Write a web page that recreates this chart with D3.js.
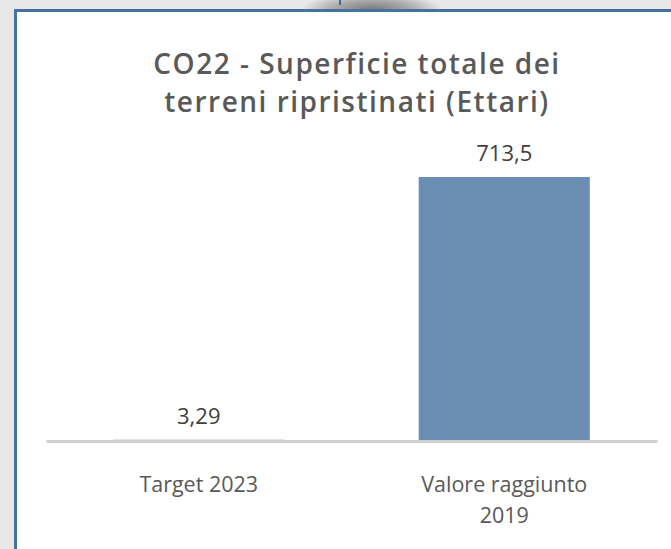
<!DOCTYPE html>
<html>
<head>
<meta charset="utf-8">
<script src="https://cdn.jsdelivr.net/npm/d3@7"></script>
<style>
  body { margin: 0; background: #e8e8e8; }
  svg { display: block; }
</style>
</head>
<body>
<div id="chart"></div>
<script>
// chart data
const titleLines = ["CO22 - Superficie totale dei", "terreni ripristinati (Ettari)"];
const categories = ["Target 2023", "Valore raggiunto 2019"];
const categoryLines = [["Target 2023"], ["Valore raggiunto", "2019"]];
const values = [3.29, 713.5];
const yDomain = [0, 800];

const width = 671, height = 549;
const margin = { top: 145, right: 14, bottom: 108, left: 46 };

const it = d3.formatLocale({ decimal: ",", thousands: ".", grouping: [3], currency: ["", " €"] });
const fmt = it.format("~g");

const svg = d3.select("#chart").append("svg")
  .attr("width", width)
  .attr("height", height);

// shadow + panel behind the chart
const defs = svg.append("defs");
const grad = defs.append("radialGradient").attr("id", "shadow");
grad.append("stop").attr("offset", "0%").attr("stop-color", "#7c7c7c");
grad.append("stop").attr("offset", "55%").attr("stop-color", "#ababab");
grad.append("stop").attr("offset", "100%").attr("stop-color", "#e8e8e8");

svg.append("ellipse")
  .attr("cx", 372).attr("cy", 9)
  .attr("rx", 70).attr("ry", 16)
  .attr("fill", "url(#shadow)");

svg.append("rect")
  .attr("x", 15.5).attr("y", 10.5)
  .attr("width", width + 20).attr("height", height + 20)
  .attr("fill", "#fff")
  .attr("stroke", "#4672a2")
  .attr("stroke-width", 3);

svg.append("line")
  .attr("x1", 340).attr("x2", 340)
  .attr("y1", 0).attr("y2", 5)
  .attr("stroke", "#3f6a98")
  .attr("stroke-width", 2);

// title
svg.append("text")
  .attr("text-anchor", "middle")
  .attr("font-family", "'Open Sans', sans-serif")
  .attr("font-weight", 600)
  .attr("font-size", 28)
  .attr("letter-spacing", 1.5)
  .attr("fill", "#595959")
  .selectAll("tspan")
  .data(titleLines)
  .join("tspan")
  .attr("x", 357)
  .attr("y", (d, i) => 74 + i * 38)
  .text(d => d);

// scales
const x = d3.scaleBand()
  .domain(categories)
  .range([margin.left, width - margin.right])
  .paddingInner(0.44)
  .paddingOuter(0.22);

const y = d3.scaleLinear()
  .domain(yDomain)
  .range([height - margin.bottom, margin.top]);

const baseY = y(0);

// bars
svg.selectAll(".bar")
  .data(values)
  .join("rect")
  .attr("class", "bar")
  .attr("x", (d, i) => x(categories[i]))
  .attr("y", d => y(d))
  .attr("width", x.bandwidth())
  .attr("height", d => baseY - y(d))
  .attr("fill", "#6a8db3");

// value labels
svg.selectAll(".val")
  .data(values)
  .join("text")
  .attr("class", "val")
  .attr("x", (d, i) => x(categories[i]) + x.bandwidth() / 2)
  .attr("y", d => y(d) - 16)
  .attr("text-anchor", "middle")
  .attr("font-family", "'Open Sans', sans-serif")
  .attr("font-size", 22)
  .attr("fill", "#404040")
  .text(d => fmt(d));

// axis
const axis = svg.append("g")
  .attr("transform", `translate(0,${baseY})`)
  .call(d3.axisBottom(x).tickSize(0).tickSizeOuter(0).tickPadding(0));

axis.select(".domain")
  .attr("stroke", "#d0d0d0")
  .attr("stroke-width", 3);

axis.selectAll(".tick text").remove();
axis.selectAll(".tick").append("text")
  .attr("text-anchor", "middle")
  .attr("font-family", "'Open Sans', sans-serif")
  .attr("font-size", 21.5)
  .attr("fill", "#595959")
  .selectAll("tspan")
  .data((d, i) => categoryLines[i])
  .join("tspan")
  .attr("x", 0)
  .attr("y", (d, i) => 51 + i * 31)
  .text(d => d);
</script>
</body>
</html>
